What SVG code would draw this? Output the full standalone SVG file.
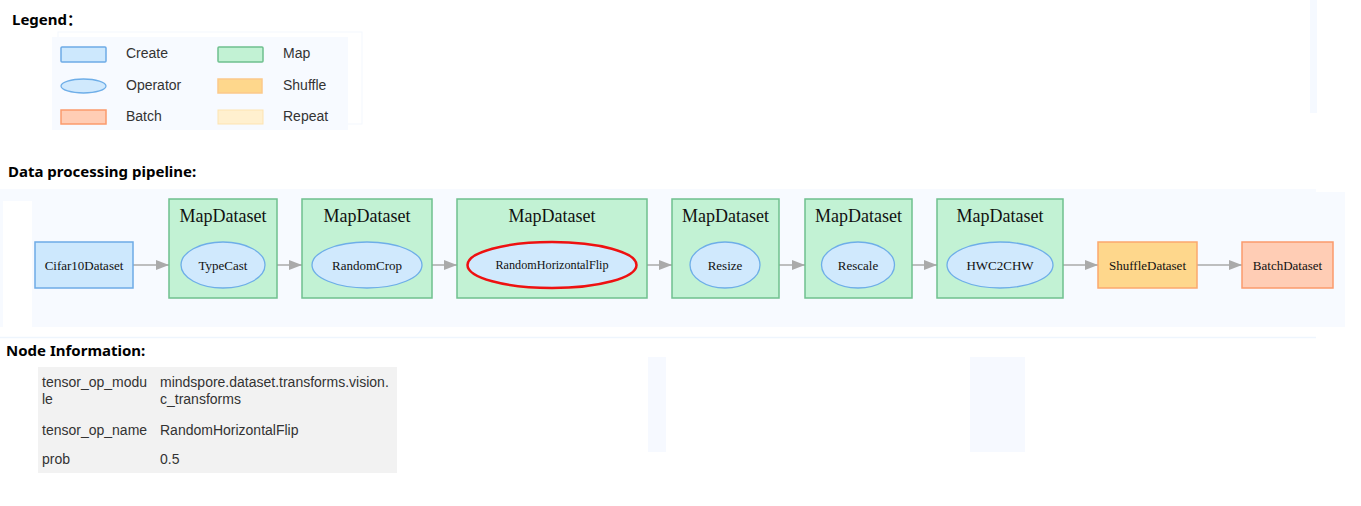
<svg xmlns="http://www.w3.org/2000/svg" width="1361" height="506" viewBox="0 0 1361 506">
  <defs>
    <style>
      .title { font-family: "Noto Sans", "Liberation Sans", "Noto Sans CJK SC", sans-serif; font-weight: bold; font-size: 15px; fill: #000; }
      .lg { font-family: "Liberation Sans", Arial, sans-serif; font-size: 14px; fill: #333; }
      .tb { font-family: "Liberation Sans", Arial, sans-serif; font-size: 14px; fill: #333; }
      .nd { font-family: "Liberation Serif", "Times New Roman", serif; font-size: 13px; fill: #111; text-anchor: middle; dominant-baseline: central; }
      .mt { font-family: "Liberation Serif", "Times New Roman", serif; font-size: 18px; fill: #111; text-anchor: middle; }
      .create { fill: #cde8fd; stroke: #6eabe6; stroke-width: 1.5; }
      .map { fill: #c2f2d4; stroke: #6fc08e; stroke-width: 1.5; }
      .op { fill: #d0e9fd; stroke: #6eaee8; stroke-width: 1.3; }
      .shuffle { fill: #fed78c; stroke: #fba86e; stroke-width: 1.5; }
      .batch { fill: #ffcdb5; stroke: #fb9a6c; stroke-width: 1.5; }
      .repeat { fill: #fff0cf; stroke: #fde3b1; stroke-width: 1; }
      .edge { stroke: #aaaaaa; stroke-width: 1.5; fill: none; marker-end: url(#arr); }
    </style>
    <marker id="arr" viewBox="0 0 13 10" refX="13" refY="5" markerWidth="13" markerHeight="10" markerUnits="userSpaceOnUse" orient="auto">
      <path d="M0,0 L13,5 L0,10 Z" fill="#aaaaaa"/>
    </marker>
  </defs>
  <rect width="1361" height="506" fill="#ffffff"/>

  <!-- decorative backgrounds -->
  <rect x="1310" y="0" width="7" height="113" fill="#f5f9ff"/>
  <rect x="58" y="32" width="304" height="92" fill="none" stroke="#f3f7fd" stroke-width="1"/>
  <rect x="0" y="189" width="1316" height="138" fill="#f7faff"/>
  <rect x="1316" y="192" width="29" height="135" fill="#f7faff"/>
  <rect x="3" y="201" width="29" height="136" fill="#ffffff"/>
  <line x1="0" y1="337.5" x2="1316" y2="337.5" stroke="#eef5fd" stroke-width="1.5"/>
  <rect x="648" y="357" width="18" height="95" fill="#f6f9ff"/>
  <rect x="970" y="357" width="55" height="95" fill="#f6f9ff"/>

  <!-- Legend -->
  <text class="title" x="12" y="25">Legend：</text>
  <g id="legend">
    <rect x="52" y="37" width="296" height="93" fill="#f7faff"/>
    <rect class="create" x="61" y="47" width="45" height="15" rx="1"/>
    <text class="lg" x="126" y="58">Create</text>
    <rect class="map" x="218" y="47" width="45" height="15" rx="1"/>
    <text class="lg" x="283" y="58">Map</text>
    <ellipse class="op" cx="83.5" cy="86" rx="22.5" ry="7"/>
    <text class="lg" x="126" y="90">Operator</text>
    <rect class="shuffle" x="218" y="79" width="44" height="14" style="stroke:#fcc98a"/>
    <text class="lg" x="283" y="90">Shuffle</text>
    <rect class="batch" x="61" y="110" width="45" height="14"/>
    <text class="lg" x="126" y="121">Batch</text>
    <rect class="repeat" x="218" y="110" width="45" height="14"/>
    <text class="lg" x="283" y="121">Repeat</text>
  </g>

  <!-- Pipeline -->
  <text class="title" x="8" y="177">Data processing pipeline:</text>

  <g id="connectors">
    <line class="edge" x1="133" y1="265" x2="169" y2="265"/>
    <line class="edge" x1="277" y1="265" x2="302" y2="265"/>
    <line class="edge" x1="432" y1="265" x2="457" y2="265"/>
    <line class="edge" x1="647" y1="265" x2="672" y2="265"/>
    <line class="edge" x1="779" y1="265" x2="805" y2="265"/>
    <line class="edge" x1="912" y1="265" x2="937" y2="265"/>
    <line class="edge" x1="1063" y1="265" x2="1098" y2="265"/>
    <line class="edge" x1="1197" y1="265" x2="1242" y2="265"/>
  </g>

  <g id="cifar10">
    <rect class="create" x="35" y="242" width="98" height="46"/>
    <text class="nd" x="84" y="265">Cifar10Dataset</text>
  </g>

  <g id="map1">
    <rect class="map" x="169" y="199" width="108" height="99"/>
    <text class="mt" x="223" y="222">MapDataset</text>
    <ellipse class="op" cx="223" cy="265" rx="42" ry="23"/>
    <text class="nd" x="223" y="265">TypeCast</text>
  </g>

  <g id="map2">
    <rect class="map" x="302" y="199" width="130" height="99"/>
    <text class="mt" x="367" y="222">MapDataset</text>
    <ellipse class="op" cx="367" cy="265" rx="55" ry="23"/>
    <text class="nd" x="367" y="265">RandomCrop</text>
  </g>

  <g id="map3">
    <rect class="map" x="457" y="199" width="190" height="99"/>
    <text class="mt" x="552" y="222">MapDataset</text>
    <ellipse cx="552" cy="265" rx="84.5" ry="23" fill="#d0e9fd" stroke="#ee1111" stroke-width="2.5"/>
    <text class="nd" x="552" y="265" style="font-size:12.2px">RandomHorizontalFlip</text>
  </g>

  <g id="map4">
    <rect class="map" x="672" y="199" width="107" height="99"/>
    <text class="mt" x="725.5" y="222">MapDataset</text>
    <ellipse class="op" cx="725" cy="265" rx="35" ry="23"/>
    <text class="nd" x="725" y="265">Resize</text>
  </g>

  <g id="map5">
    <rect class="map" x="805" y="199" width="107" height="99"/>
    <text class="mt" x="858.5" y="222">MapDataset</text>
    <ellipse class="op" cx="858" cy="265" rx="36.5" ry="23"/>
    <text class="nd" x="858" y="265">Rescale</text>
  </g>

  <g id="map6">
    <rect class="map" x="937" y="199" width="126" height="99"/>
    <text class="mt" x="1000" y="222">MapDataset</text>
    <ellipse class="op" cx="1000" cy="265" rx="53" ry="23"/>
    <text class="nd" x="1000" y="265">HWC2CHW</text>
  </g>

  <g id="shuffle">
    <rect class="shuffle" x="1098" y="242" width="99" height="46"/>
    <text class="nd" x="1147.5" y="265">ShuffleDataset</text>
  </g>

  <g id="batch">
    <rect class="batch" x="1242" y="242" width="91" height="46"/>
    <text class="nd" x="1287.5" y="265">BatchDataset</text>
  </g>

  <!-- Node information -->
  <text class="title" x="6" y="356">Node Information:</text>
  <g id="node-info">
    <rect x="38" y="367" width="359" height="106" fill="#f2f2f2"/>
    <text class="tb" x="42" y="387">tensor_op_modu</text>
    <text class="tb" x="42" y="404">le</text>
    <text class="tb" x="160" y="387">mindspore.dataset.transforms.vision.</text>
    <text class="tb" x="160" y="404">c_transforms</text>
    <text class="tb" x="42" y="435">tensor_op_name</text>
    <text class="tb" x="160" y="435">RandomHorizontalFlip</text>
    <text class="tb" x="42" y="464">prob</text>
    <text class="tb" x="160" y="464">0.5</text>
  </g>
</svg>
